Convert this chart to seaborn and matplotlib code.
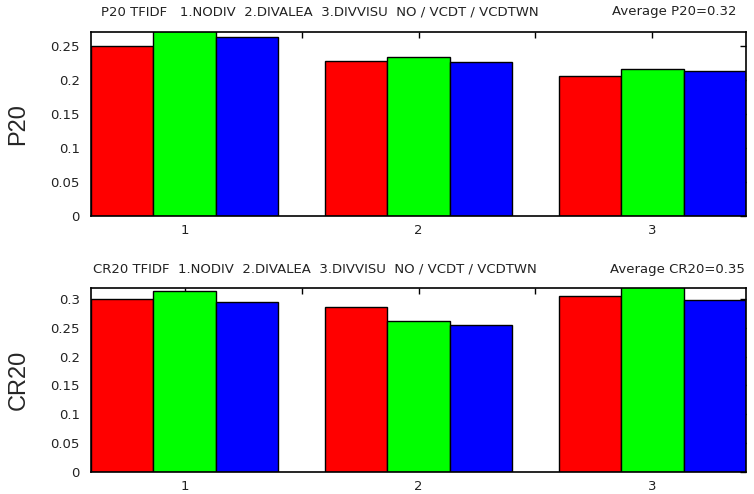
import matplotlib
matplotlib.use("Agg")
import matplotlib.pyplot as plt
import seaborn as sns
import pandas as pd

sns.set_style("white")
plt.rcParams['font.family'] = ['DejaVu Sans']

# diversification strategy (x) and the three visual variants (hue)
groups = ["1", "2", "3"]
variants = ["NO", "VCDT", "VCDTWN"]
colors = ["#ff0000", "#00ff00", "#0000ff"]

p20_no = [0.250, 0.228, 0.205]
p20_vcdt = [0.272, 0.233, 0.215]
p20_vcdtwn = [0.262, 0.226, 0.213]

cr20_no = [0.300, 0.286, 0.306]
cr20_vcdt = [0.314, 0.261, 0.322]
cr20_vcdtwn = [0.294, 0.255, 0.299]

p20_title = "P20 TFIDF   1.NODIV  2.DIVALEA  3.DIVVISU  NO / VCDT / VCDTWN"
cr20_title = "CR20 TFIDF  1.NODIV  2.DIVALEA  3.DIVVISU  NO / VCDT / VCDTWN"
p20_avg = "Average P20=0.32"
cr20_avg = "Average CR20=0.35"


def long_table(no, vcdt, vcdtwn):
    rows = []
    for vals, v in zip([no, vcdt, vcdtwn], variants):
        for g, y in zip(groups, vals):
            rows.append({"group": g, "variant": v, "value": y})
    return pd.DataFrame(rows)


fig = plt.figure(figsize=(7.54, 4.94), dpi=100)
ax1 = fig.add_axes([0.1207, 0.5628, 0.8687, 0.3725])
ax2 = fig.add_axes([0.1207, 0.0445, 0.8687, 0.3725])

panels = [
    (ax1, long_table(p20_no, p20_vcdt, p20_vcdtwn), "P20", 0.27,
     [0, 0.05, 0.1, 0.15, 0.2, 0.25], p20_title, p20_avg, 101, 612, 20),
    (ax2, long_table(cr20_no, cr20_vcdt, cr20_vcdtwn), "CR20", 0.319,
     [0, 0.05, 0.1, 0.15, 0.2, 0.25, 0.3], cr20_title, cr20_avg, 93, 610, 19),
]

for ax, df, name, top, yt, title, avg, tx, ax_x, dy in panels:
    sns.barplot(data=df, x="group", y="value", hue="variant", hue_order=variants,
                palette=colors, width=0.8, gap=0, edgecolor="black", linewidth=1,
                saturation=1, errorbar=None, legend=False, ax=ax)
    ax.set_axisbelow(True)
    ax.set_xlim(-0.4, 2.4)
    ax.set_ylim(0, top)
    ax.set_yticks(yt)
    ax.set_yticklabels(["0" if v == 0 else ("%g" % v) for v in yt])
    ax.set_xticks([0, 1, 2])
    ax.set_xticks([0.5, 1.5], minor=True)
    ax.tick_params(axis="both", which="both", direction="in", length=4, width=1,
                   top=True, right=True, labelsize=9.5, labelcolor="#222222",
                   color="black")
    ax.tick_params(axis="y", pad=8)
    ax.tick_params(axis="x", pad=6)
    ax.set_xlabel("")
    ax.set_ylabel(name, fontsize=17, family="Liberation Sans")
    ax.yaxis.set_label_coords(-0.094, 0.5)
    for s in ax.spines.values():
        s.set_color("black")
        s.set_linewidth(1.2)
    bb = ax.get_position()
    ytxt = bb.y1 + dy / 494
    fig.text(tx / 754, ytxt, title, fontsize=9.5, ha="left", va="center", color="#222222")
    fig.text(ax_x / 754, ytxt, avg, fontsize=9.5, ha="left", va="center", color="#222222")

fig.savefig("out.png", dpi=100)
